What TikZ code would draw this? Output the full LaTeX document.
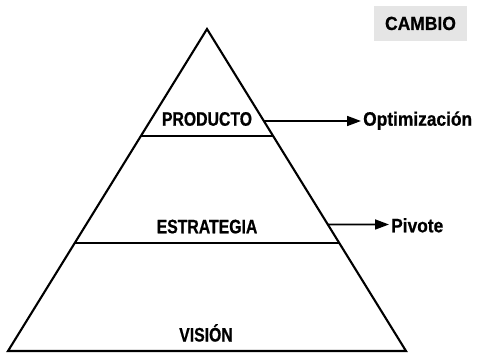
\documentclass[tikz,border=0pt]{standalone}
\usepackage{fontspec}
\setmainfont{Liberation Sans}
\newfontfamily\capsf{Liberation Sans}[FakeStretch=0.81,BoldFeatures={FakeBold=0.6}]
\newfontfamily\lowsf{Liberation Sans}[FakeStretch=0.89,BoldFeatures={FakeBold=0.6}]
\newfontfamily\boxsf{Liberation Sans}[FakeStretch=0.92,BoldFeatures={FakeBold=0.6}]
\usetikzlibrary{arrows.meta}
\definecolor{boxgray}{RGB}{229,229,229}
\begin{document}
\begin{tikzpicture}[x=1pt,y=-1pt,
  lbl/.style={font=\capsf\fontsize{19.5}{21}\selectfont\bfseries, inner sep=0pt, anchor=base},
  side/.style={font=\lowsf\fontsize{19.5}{21}\selectfont\bfseries, inner sep=0pt, anchor=base west},
  edge/.style={line width=2.1pt},
  arr/.style={line width=1.7pt, -{Triangle[length=14pt,width=10pt]}}]
\useasboundingbox (0,0) rectangle (478,353);
\coordinate (apex) at (207,29);
\coordinate (bl) at (8,351);
\coordinate (br) at (406,351);
\draw[edge, line join=miter] (bl) -- (apex) -- (br) -- cycle;
% dividing lines
\path (apex) -- (bl) coordinate[pos=0.3323] (l1) coordinate[pos=0.6646] (l2);
\path (apex) -- (br) coordinate[pos=0.3323] (r1) coordinate[pos=0.6646] (r2);
\draw[edge] (l1) -- (r1);
\draw[edge] (l2) -- (r2);
% labels
\node[lbl] (prod) at (207,125.7) {PRODUCTO};
\node[lbl] (estr) at (207,233.3) {ESTRATEGIA};
\node[lbl] (vis) at (206,341.5) {VISIÓN};
% right-side arrows
\path (apex) -- (br) coordinate[pos=0.2857] (pa) coordinate[pos=0.607] (sa);
\node[side] (opt) at (363,125.7) {Optimización};
\node[side] (piv) at (391,232.3) {Pivote};
\coordinate (optTip) at (361,121);
\coordinate (pivTip) at (389,224.5);
\draw[arr] (pa) -- (optTip);
\draw[arr] (sa) -- (pivTip);
% CAMBIO box
\node[fill=boxgray, minimum width=93pt, minimum height=34.5pt, inner sep=0pt] (cambio) at (420.5,23.3) {};
\node[font=\boxsf\fontsize{19}{21}\selectfont\bfseries, inner sep=0pt, anchor=base] (ctext) at (420.5,30) {CAMBIO};
\end{tikzpicture}
\end{document}
